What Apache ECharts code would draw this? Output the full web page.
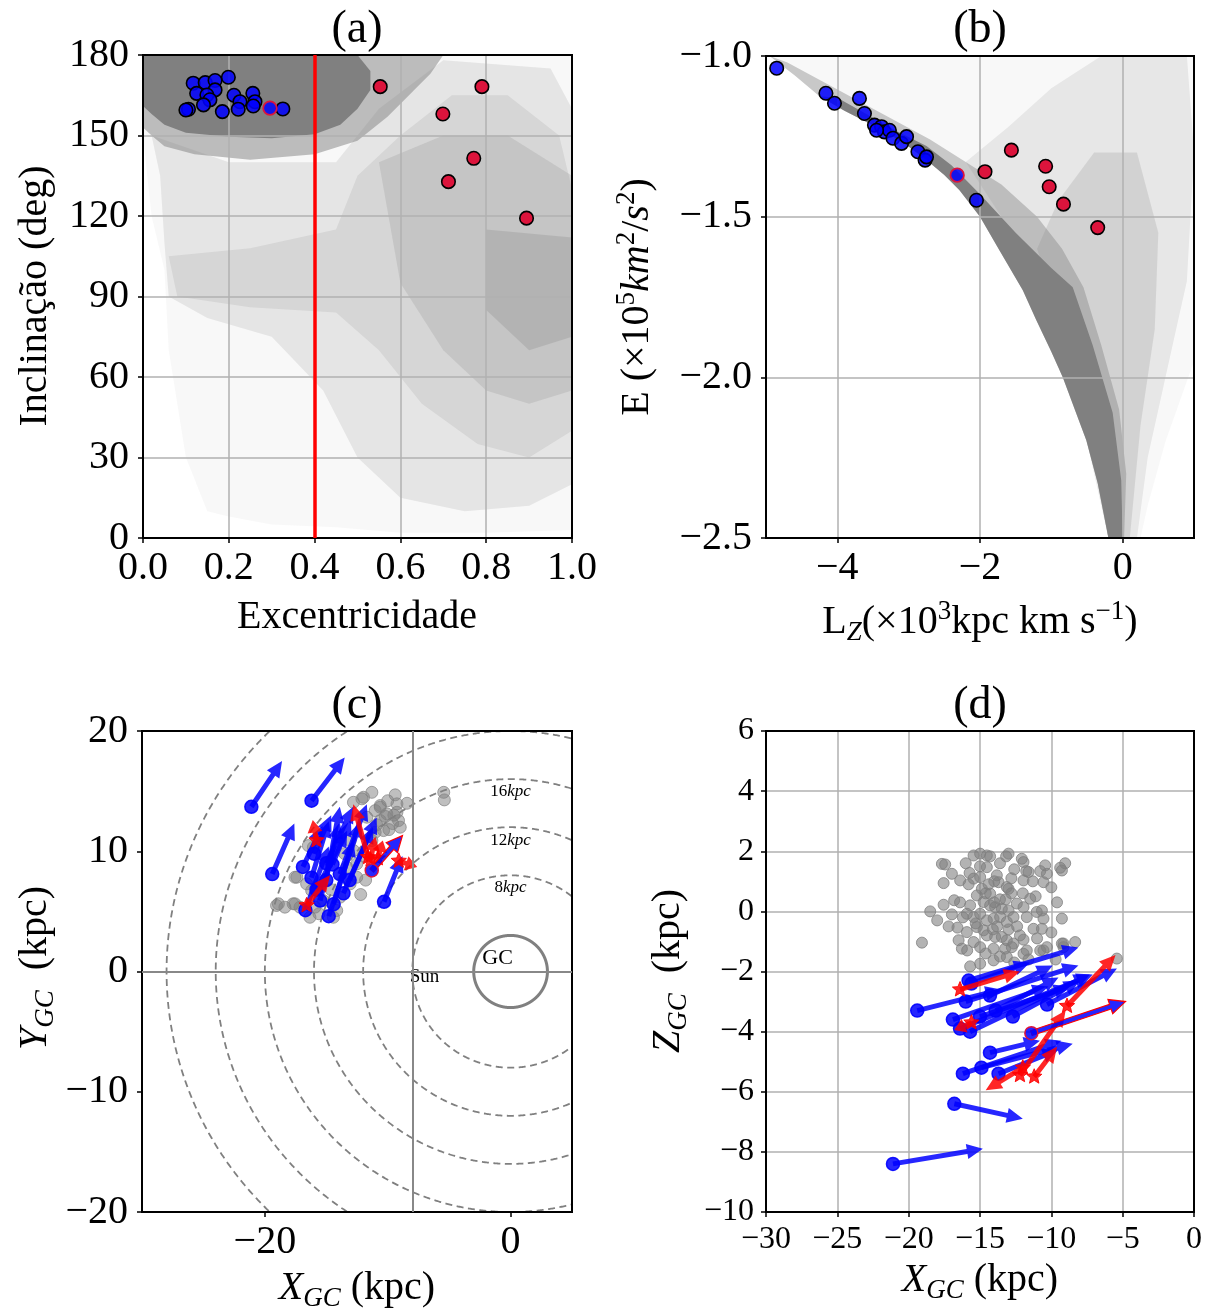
<!DOCTYPE html>
<html><head><meta charset="utf-8">
<script src="https://cdn.jsdelivr.net/npm/echarts@6/dist/echarts.min.js"></script>
<style>html,body{margin:0;padding:0;background:#fff}#c{width:1213px;height:1313px}</style>
</head><body><div id="c"></div>
<script>
// ---------------- DATA ----------------
// (a) eccentricity vs inclination
const aBlue = [[0.117,169.5],[0.145,169.7],[0.168,170.5],[0.168,167.0],[0.199,171.7],[0.125,165.7],[0.149,165.1],[0.156,163.3],[0.141,161.4],[0.106,159.8],[0.100,159.5],[0.185,158.9],[0.212,165.0],[0.226,162.6],[0.222,159.8],[0.256,165.7],[0.261,162.6],[0.257,161.0],[0.326,159.9]];
const aBlueRed = [[0.296,160.2]];
const aRed = [[0.553,168.2],[0.790,168.2],[0.699,158.0],[0.771,141.5],[0.712,132.8],[0.894,119.2]];
const aCut = 0.4;
// background population, read as density outlines (e, i)
const aCloudSparse = [[0,180],[1,180],[1,3],[0.8,2],[0.6,2],[0.45,4],[0.3,5],[0.2,8],[0.15,10],[0.1,30],[0.06,70],[0.05,100],[0.02,120],[0,150]];
const aCloudLight = [[0.02,150],[0.2,140],[0.45,140],[0.55,160],[0.7,178],[0.95,175],[1,160],[1,20],[0.9,12],[0.75,10],[0.6,15],[0.5,30],[0.42,55],[0.3,75],[0.15,82],[0.06,90],[0.05,110],[0.04,135]];
const aCloudBand = [[0.06,105],[0.25,108],[0.45,115],[0.5,135],[0.6,150],[0.72,165],[0.85,165],[0.97,150],[1,130],[1,40],[0.9,30],[0.78,35],[0.65,50],[0.55,70],[0.45,84],[0.25,86],[0.08,90]];
const aCloudRight = [[0.55,140],[0.7,150],[0.85,150],[1,135],[1,55],[0.9,50],[0.8,55],[0.7,70],[0.6,95]];
const aCloudCore = [[0.8,115],[1,112],[1,75],[0.9,70],[0.8,85]];
const aCloudHalo = [[0,180],[0.7,180],[0.67,173],[0.62,165],[0.57,157],[0.5,148],[0.4,143],[0.25,141],[0.12,143],[0.05,146],[0.02,150],[0,153]];
const aCloudDense = [[0,180],[0.5,180],[0.53,174],[0.53,167],[0.5,160],[0.46,154],[0.4,150.5],[0.3,149],[0.2,149.5],[0.1,151],[0.05,154],[0.02,158],[0,161]];

// (b) Lz vs E
const bBlue = [[-4.85,-1.038],[-4.16,-1.116],[-4.04,-1.147],[-3.69,-1.132],[-3.62,-1.179],[-3.48,-1.215],[-3.38,-1.22],[-3.34,-1.236],[-3.27,-1.231],[-3.45,-1.231],[-3.22,-1.256],[-3.10,-1.272],[-3.03,-1.251],[-2.87,-1.298],[-2.77,-1.324],[-2.75,-1.314],[-2.05,-1.449]];
const bBlueRed = [[-2.32,-1.371]];
const bRed = [[-1.56,-1.293],[-1.93,-1.36],[-1.08,-1.343],[-1.03,-1.407],[-0.83,-1.461],[-0.35,-1.534]];
const bEdge = [[-4.95,-1.0],[-4.6,-1.06],[-4.25,-1.125],[-3.9,-1.17],[-3.55,-1.21],[-3.1,-1.265],[-2.75,-1.324],[-2.5,-1.37],[-2.29,-1.417],[-2.0,-1.5],[-1.73,-1.604],[-1.4,-1.729],[-1.21,-1.822],[-1.0,-1.92],[-0.84,-2.0],[-0.51,-2.196],[-0.35,-2.33],[-0.23,-2.466],[-0.2,-2.5]];
const bCloudSparse = bEdge.concat([[0.25,-2.5],[0.35,-2.4],[0.6,-2.2],[1,-1.95],[1,-1.0]]);
const bCloudLight = [[-2.2,-1.33],[-1.6,-1.22],[-1.0,-1.1],[-0.3,-1.0],[0.9,-1.0],[1.0,-1.3],[0.9,-1.7],[0.6,-2.0],[0.35,-2.25],[0.2,-2.5],[-0.2,-2.5],[-0.6,-2.1],[-1.1,-1.8],[-1.7,-1.5]];
const bCloudMid = [[-1.2,-1.6],[-0.9,-1.45],[-0.4,-1.3],[0.2,-1.3],[0.5,-1.55],[0.45,-1.85],[0.25,-2.15],[0.1,-2.5],[-0.2,-2.5],[-0.5,-2.1],[-0.9,-1.8]];
const bCloudHalo = bEdge.concat([[0.02,-2.5],[0.05,-2.3],[-0.05,-2.1],[-0.3,-1.9],[-0.55,-1.72],[-0.85,-1.6],[-1.2,-1.5],[-1.7,-1.4],[-2.2,-1.33],[-2.7,-1.26],[-3.2,-1.2],[-3.7,-1.14],[-4.2,-1.08],[-4.7,-1.02]]);
const bCloudDense = bEdge.slice(2).concat([[0.0,-2.5],[-0.02,-2.32],[-0.14,-2.11],[-0.42,-1.9],[-0.7,-1.72],[-1.0,-1.66],[-1.5,-1.55],[-2.0,-1.43],[-2.4,-1.34],[-2.75,-1.28],[-3.2,-1.23],[-3.6,-1.18],[-4.0,-1.13]]);
const bXTicks = [-4,-2,0];

// (c) X-Y plane
const cGray = [[-11.97,14.49],[-11.29,14.9],[-9.39,14.69],[-8.43,13.99],[-9.25,13.94],[-10.61,13.8],[-11.02,13.38],[-10.07,13.11],[-9.25,13.24],[-9.12,12.55],[-8.98,12.0],[-10.61,12.55],[-10.34,11.72],[-11.02,11.58],[-11.29,10.89],[-11.7,12.83],[-5.44,14.9],[-5.39,14.27],[-17.55,7.84],[-16.6,7.29],[-16.19,6.73],[-19.05,5.49],[-18.37,5.35],[-17.55,5.63],[-17.14,5.35],[-15.92,5.35],[-15.24,5.9],[-14.15,5.07],[-13.88,6.18],[-13.06,7.29],[-12.52,8.95],[-12.79,10.06],[-13.06,10.89],[-13.88,11.16],[-16.05,10.33],[-16.33,4.51],[-14.42,4.51],[-13.33,8.67],[-12.52,7.84],[-12.79,14.07],[-12.1,14.36],[-10.61,13.66],[-18.9,5.63],[-17.7,5.63],[-17.4,7.84],[-16.46,10.47],[-10.2,12.9],[-9.6,12.3],[-10.9,12.2],[-9.9,11.8],[-12.0,9.6],[-13.5,9.8],[-14.6,6.8],[-15.6,4.8],[-12.2,6.4],[-11.8,7.6],[-9.5,13.0],[-10.0,14.2]];
const cBlueArrows = [[-21.1,13.7,-18.6,17.5],[-16.2,14.2,-13.5,17.8],[-19.4,8.1,-17.6,12.3],[-10.3,5.8,-8.8,9.6],[-16.9,8.7,-15.3,12.1],[-16.7,5.1,-14.8,10.4],[-14.8,4.6,-12.2,12.5],[-13.6,6.5,-10.9,12.8],[-16.2,7.8,-14.8,12.5],[-15.5,5.9,-13.9,12.4],[-14.4,5.6,-12.8,10.9],[-15.0,7.6,-13.9,13.7],[-13.9,8.1,-11.7,13.9],[-13.1,7.6,-11.2,12.0],[-15.8,6.8,-13.3,11.7],[-15.0,9.0,-12.8,13.7],[-16.0,9.8,-14.6,13.0],[-14.5,8.9,-13.0,12.6]];
const cRedArrows = [[-15.8,10.9,-16.1,12.6],[-16.6,5.5,-14.7,8.0],[-11.6,9.5,-12.8,13.9],[-9.1,9.2,-7.6,8.7],[-11.4,9.3,-11.0,11.2],[-10.8,9.4,-10.4,10.9]];
const cMixedArrows = [[-11.3,8.4,-8.8,11.3]];
const cRings = [8,12,16,20,24,28];
const cGCRadius = 3;
const cSunX = -8;
const cXTicks = [-20,0];
const cNoteText = ['{n|16}{i|kpc}','{n|12}{i|kpc}','{n|8}{i|kpc}','{g|GC}','{s|Sun}'];
const cNotePos = [[0,15.0],[0,10.9],[0,7.0],[-1.06,1.08],[-7.0,-0.5]];

// (d) X-Z plane
const dGray = [[-17.67,1.58],[-17.44,1.56],[-16.97,1.25],[-16.39,1.03],[-17.55,0.94],[-15.73,1.28],[-15.45,1.86],[-14.99,1.92],[-14.52,1.86],[-14.29,1.83],[-13.0,1.92],[-13.17,1.83],[-12.07,1.75],[-11.95,1.64],[-11.76,1.34],[-11.6,1.31],[-10.78,1.34],[-10.43,1.53],[-10.31,1.25],[-10.55,0.97],[-11.95,1.03],[-13.12,0.81],[-13.0,0.75],[-14.52,1.47],[-13.82,1.2],[-13.7,0.97],[-14.99,1.14],[-15.45,1.09],[-14.87,0.75],[-14.29,0.59],[-15.22,0.53],[-15.69,0.2],[-14.75,0.31],[-14.29,0.2],[-13.94,0.14],[-13.47,0.09],[-13.0,0.03],[-12.42,0.26],[-11.95,0.14],[-11.48,0.42],[-10.66,0.03],[-10.55,-0.24],[-9.26,-0.24],[-9.38,1.45],[-9.03,1.6],[-9.26,1.36],[-16.81,0.37],[-17.55,0.22],[-18.49,0.0],[-16.97,-0.1],[-15.92,-0.08],[-15.45,-0.19],[-14.99,-0.08],[-14.52,-0.3],[-14.05,-0.24],[-13.59,-0.19],[-13.12,-0.35],[-12.65,-0.19],[-11.72,-0.19],[-11.02,-0.02],[-11.25,-0.58],[-10.66,-0.58],[-16.58,-0.54],[-15.92,-0.69],[-15.22,-0.52],[-14.75,-0.63],[-14.52,-0.8],[-13.94,-0.85],[-13.47,-0.85],[-13.12,-0.96],[-12.65,-1.07],[-11.95,-0.94],[-19.07,-1.04],[-16.5,-0.96],[-16.27,-1.24],[-15.45,-1.02],[-14.99,-1.19],[-14.05,-1.24],[-13.24,-1.24],[-12.77,-1.19],[-11.72,-1.3],[-10.78,-1.3],[-10.31,-1.19],[-9.26,-1.07],[-8.33,-1.02],[-9.15,-1.19],[-15.69,-1.83],[-14.99,-1.74],[-14.05,-1.63],[-13.12,-1.52],[-11.95,-1.41],[-10.55,-1.3],[-9.15,-1.07],[-5.41,-1.57],[-14.6,0.6],[-13.6,0.4],[-12.8,0.6],[-14.0,1.0],[-12.4,-0.5],[-13.8,-0.5],
  [-16.0,1.6],[-15.0,1.5],[-13.6,1.6],[-12.6,1.4],[-11.3,1.0],[-10.0,0.8],[-9.6,0.3],[-12.0,0.6],[-13.2,0.4],[-14.4,0.9],[-15.8,0.9],[-16.4,0.3],[-15.3,-0.4],[-14.1,-0.6],[-12.2,-0.8],[-11.0,-0.9],[-10.0,-0.7],[-13.6,-1.5],[-12.6,-1.7],[-14.6,-1.4],[-15.9,-1.3],[-17.2,-0.5],[-18.0,-0.3],[-12.8,1.1],[-11.1,0.5],[-14.0,0.3],[-16.2,-0.2],[-13.0,-0.6],[-11.6,-1.6],[-9.7,-1.6]];
const dBlueArrows = [[-21.1,-8.4,-14.8,-7.9],[-16.8,-6.4,-12.0,-6.9],[-19.4,-3.3,-13.5,-2.6],[-16.2,-5.4,-9.3,-4.3],[-14.9,-5.2,-8.5,-4.4],[-13.7,-5.4,-9.5,-4.6],[-14.3,-4.7,-10.8,-4.3],[-16.9,-3.6,-10.2,-2.5],[-16.4,-3.9,-7.1,-2.1],[-15.7,-4.0,-7.3,-2.1],[-15.0,-3.5,-8.7,-2.5],[-15.8,-2.3,-8.1,-1.2],[-16.0,-3.0,-8.1,-1.8],[-14.3,-2.8,-9.9,-1.8],[-10.3,-3.1,-5.4,-1.9],[-12.7,-3.5,-8.0,-2.3],[-15.6,-2.4,-11.5,-1.7],[-13.9,-3.3,-9.5,-2.2]];
const dRedArrows = [[-16.4,-2.6,-12.2,-2.0],[-15.6,-3.7,-16.8,-3.95],[-8.9,-3.15,-5.5,-1.45],[-12.2,-5.45,-9.0,-3.3],[-11.2,-5.5,-9.6,-4.5],[-12.0,-5.2,-14.6,-5.95]];
const dMixedArrows = [[-11.4,-4.05,-4.8,-3.0]];

// ---------------- STYLE ----------------
const FONT = 'Liberation Serif';
const BLUE = 'rgba(0,0,255,0.85)';
const RED = 'rgba(255,0,0,0.85)';
const CRIMSON = '#dc143c';
const GRAYFILL = 'rgba(128,128,128,';
const ARROW = {headLen: 16, headW: 7.5, shaftW: 2.5, baseR: 6.5, starR: 8};
const aClouds = [[aCloudSparse,0.06],[aCloudLight,0.16],[aCloudBand,0.15],[aCloudRight,0.2],[aCloudCore,0.25],[aCloudHalo,0.5],[aCloudDense,1]];
const bClouds = [[bCloudSparse,0.06],[bCloudLight,0.14],[bCloudMid,0.2],[bCloudHalo,0.4],[bCloudDense,1]];

const minus = s => String(s).replace('-', '\u2212');
const RICH = {
  sup:{fontSize:27,fontFamily:FONT,fill:'#000',verticalAlign:'top',lineHeight:22},
  it:{fontSize:40,fontFamily:FONT,fontStyle:'italic',fill:'#000',lineHeight:48},
  sub:{fontSize:27,fontFamily:FONT,fill:'#000',verticalAlign:'bottom',lineHeight:34},
  subI:{fontSize:27,fontFamily:FONT,fontStyle:'italic',fill:'#000',verticalAlign:'bottom',lineHeight:34}
};

function cloudSeries(xi, clouds) {
  return {type:'custom', xAxisIndex:xi, yAxisIndex:xi, z:1, silent:true,
    data: clouds.map((c,i)=>[c[0][0][0], c[0][0][1], i]),
    renderItem(params, api){
      const c = clouds[api.value(2)];
      return {type:'polygon', shape:{points:c[0].map(q=>api.coord(q))}, style:{fill:GRAYFILL+c[1]+')'}};
    }};
}
function pts(xi, data, fill, stroke, size, bw, z) {
  return {type:'scatter', xAxisIndex:xi, yAxisIndex:xi, data, symbolSize:size, z, silent:true,
    itemStyle:{color:fill, borderColor:stroke, borderWidth:bw, opacity:1}};
}
function starPts(cx, cy, R, r) {
  const out = [];
  for (let k=0;k<10;k++){ const a = -Math.PI/2 + k*Math.PI/5; const rr = k%2?r:R; out.push([cx+rr*Math.cos(a), cy+rr*Math.sin(a)]); }
  return out;
}
function arrowSeries(xi, data, fill, stroke, baseKind, baseFill, baseStroke, z) {
  return {type:'custom', xAxisIndex:xi, yAxisIndex:xi, z, silent:true, data,
    encode:{x:[0,2], y:[1,3]},
    renderItem(params, api){
      const p0 = api.coord([api.value(0), api.value(1)]);
      const p1 = api.coord([api.value(2), api.value(3)]);
      const dx=p1[0]-p0[0], dy=p1[1]-p0[1];
      const L = Math.hypot(dx,dy)||1, ux=dx/L, uy=dy/L, nx=-uy, ny=ux;
      const hl=Math.min(ARROW.headLen, L*0.6), hw=ARROW.headW, sw=ARROW.shaftW;
      const bx=p1[0]-ux*hl, by=p1[1]-uy*hl;
      const poly=[[p0[0]+nx*sw,p0[1]+ny*sw],[bx+nx*sw,by+ny*sw],[bx+nx*hw,by+ny*hw],[p1[0],p1[1]],[bx-nx*hw,by-ny*hw],[bx-nx*sw,by-ny*sw],[p0[0]-nx*sw,p0[1]-ny*sw]];
      const ch=[{type:'polygon', shape:{points:poly}, style:{fill, stroke:stroke||null, lineWidth:stroke?1.2:0}}];
      if (baseKind==='circle') ch.push({type:'circle', shape:{cx:p0[0],cy:p0[1],r:ARROW.baseR}, style:{fill:baseFill, stroke:baseStroke, lineWidth:1.5}});
      else ch.push({type:'polygon', shape:{points:starPts(p0[0],p0[1],ARROW.starR,ARROW.starR*0.45)}, style:{fill:baseFill, stroke:baseStroke, lineWidth:1}});
      return {type:'group', children:ch};
    }};
}
function ringSeries(xi, radii, xr, yr, dashed, width) {
  return {type:'custom', xAxisIndex:xi, yAxisIndex:xi, z:1, silent:true,
    data: radii.map(r=>[0,0,r]),
    renderItem(params, api){
      const r = api.value(2); const segs=[]; let cur=[];
      for (let k=0;k<=1440;k++){
        const a = k/1440*2*Math.PI, x=r*Math.cos(a), y=r*Math.sin(a);
        if (x>=xr[0]&&x<=xr[1]&&y>=yr[0]&&y<=yr[1]) cur.push(api.coord([x,y]));
        else { if (cur.length>1) segs.push(cur); cur=[]; }
      }
      if (cur.length>1) segs.push(cur);
      return {type:'group', children: segs.map(s=>({type:'polyline', shape:{points:s}, style:{stroke:'#808080', lineWidth:width, fill:null, lineDash: dashed?[7,4.5]:null}}))};
    }};
}

function axisBase(fs, grid, split) {
  return {type:'value', gridIndex:grid, z:1.5,
    axisLine:{show:false, onZero:false},
    axisTick:{show:true, inside:false, length:5, lineStyle:{color:'#000', width:1.5}},
    axisLabel:{color:'#000', fontFamily:FONT, fontSize:fs, margin:10},
    splitLine:{show:split, lineStyle:{color:'#b0b0b0', width:1.5}}};
}
const gridBox = {show:true, borderColor:'#000', borderWidth:2, backgroundColor:'transparent', z:5};

const xa = axisBase(40,0,true); Object.assign(xa,{min:0,max:1,interval:0.2}); xa.axisLabel.formatter=v=>v.toFixed(1);
const xb = axisBase(40,1,true); Object.assign(xb,{min:-5,max:1}); xb.axisLabel.customValues=bXTicks; xb.axisTick.customValues=bXTicks; xb.axisLabel.formatter=v=>minus(v);
const xc = axisBase(40,2,false); Object.assign(xc,{min:-30,max:5}); xc.axisLabel.customValues=cXTicks; xc.axisTick.customValues=cXTicks; xc.axisLabel.formatter=v=>minus(v);
const xd = axisBase(32,3,true); Object.assign(xd,{min:-30,max:0,interval:5}); xd.axisLabel.formatter=v=>minus(v); xd.axisLabel.margin=12;
const ya = axisBase(40,0,true); Object.assign(ya,{min:0,max:180,interval:30}); ya.axisLabel.margin=14;
const yb = axisBase(40,1,true); Object.assign(yb,{min:-2.5,max:-1,interval:0.5}); yb.axisLabel.formatter=v=>minus(v.toFixed(1)); yb.axisLabel.margin=14;
const yc = axisBase(40,2,false); Object.assign(yc,{min:-20,max:20,interval:10}); yc.axisLabel.formatter=v=>minus(v); yc.axisLabel.margin=14;
const yd = axisBase(32,3,true); Object.assign(yd,{min:-10,max:6,interval:2}); yd.axisLabel.formatter=v=>minus(v); yd.axisLabel.margin=12;

function label(text, x, y, rot, fs) {
  return {type:'text', x, y, rotation:rot||0, z:20, silent:true,
    style:{text, fontFamily:FONT, fontSize:fs||40, fill:'#000', align:'center', verticalAlign:'middle', lineHeight:48, rich:RICH}};
}

const noteSeries = {type:'custom', xAxisIndex:2, yAxisIndex:2, z:4, silent:true,
  data: cNotePos.map((p,i)=>[p[0],p[1],i]),
  renderItem(params, api){
    const p = api.coord([api.value(0), api.value(1)]);
    return {type:'text', x:p[0], y:p[1], style:{text:cNoteText[api.value(2)], align:'center', verticalAlign:'middle', fill:'#000',
      rich:{n:{fontFamily:FONT,fontSize:17,fill:'#000'}, i:{fontFamily:FONT,fontSize:17,fontStyle:'italic',fill:'#000'},
            g:{fontFamily:FONT,fontSize:22,fill:'#000'}, s:{fontFamily:FONT,fontSize:19,fill:'#000'}}}};
  }};

const sunLines = ringSeries(2, [cGCRadius], [-30,5], [-20,20], false, 3);
sunLines.markLine = {silent:true, symbol:'none', label:{show:false}, animation:false,
  lineStyle:{color:'#888888', type:'solid', width:2}, data:[{xAxis:cSunX},{yAxis:0}]};

const aBlueS = pts(0, aBlue, BLUE, '#000', 13.5, 1.6, 3);
aBlueS.markLine = {silent:true, symbol:'none', label:{show:false}, animation:false, lineStyle:{color:'#ff0000', type:'solid', width:3.5}, data:[{xAxis:aCut}]};

const option = {
  animation:false,
  backgroundColor:'#fff',
  grid:[
    Object.assign({left:143, top:55, width:429, height:483}, gridBox),
    Object.assign({left:766, top:56, width:428, height:482}, gridBox),
    Object.assign({left:142, top:731, width:430, height:481}, gridBox),
    Object.assign({left:766, top:731, width:428, height:481}, gridBox)
  ],
  xAxis:[xa,xb,xc,xd],
  yAxis:[ya,yb,yc,yd],
  series:[
    cloudSeries(0, aClouds),
    aBlueS,
    pts(0, aRed, CRIMSON, '#000', 13.5, 1.6, 3),
    pts(0, aBlueRed, BLUE, CRIMSON, 13.5, 1.8, 3),
    cloudSeries(1, bClouds),
    pts(1, bBlue, BLUE, '#000', 13.5, 1.6, 3),
    pts(1, bRed, CRIMSON, '#000', 13.5, 1.6, 3),
    pts(1, bBlueRed, BLUE, CRIMSON, 13.5, 1.8, 3),
    ringSeries(2, cRings, [-30,5], [-20,20], true, 1.8),
    sunLines,
    noteSeries,
    pts(2, cGray, 'rgba(128,128,128,0.5)', 'rgba(128,128,128,0.7)', 12, 1, 2),
    arrowSeries(2, cBlueArrows, BLUE, null, 'circle', BLUE, 'rgba(0,0,255,0.9)', 3),
    arrowSeries(2, cRedArrows, RED, null, 'star', RED, 'rgba(255,0,0,0.9)', 3.2),
    arrowSeries(2, cMixedArrows, BLUE, '#ff0000', 'circle', BLUE, CRIMSON, 3.3),
    pts(3, dGray, 'rgba(128,128,128,0.6)', 'rgba(128,128,128,0.8)', 11, 1, 2),
    arrowSeries(3, dBlueArrows, BLUE, null, 'circle', BLUE, 'rgba(0,0,255,0.9)', 3),
    arrowSeries(3, dRedArrows, RED, null, 'star', RED, 'rgba(255,0,0,0.9)', 3.2),
    arrowSeries(3, dMixedArrows, BLUE, '#ff0000', 'circle', BLUE, CRIMSON, 3.3)
  ],
  graphic:[
    label('(a)', 357, 30, 0, 46), label('(b)', 980, 30, 0, 46),
    label('(c)', 357, 706, 0, 46), label('(d)', 980, 706, 0, 46),
    label('Excentricidade', 357, 617),
    label('Inclinação (deg)', 35, 296, Math.PI/2),
    label('L{subI|Z}(×10{sup|3}kpc km s{sup|−1})', 980, 622),
    label('E (×10{sup|5}{it|km}{sup|2}/{it|s}{sup|2})', 637, 297, Math.PI/2),
    label('{it|X}{subI|GC} (kpc)', 357, 1288),
    label('{it|Y}{subI|GC}  (kpc)', 35, 968, Math.PI/2),
    label('{it|X}{subI|GC} (kpc)', 980, 1280),
    label('{it|Z}{subI|GC}  (kpc)', 668, 971, Math.PI/2)
  ]
};
const chart = echarts.init(document.getElementById('c'), null, {renderer:'canvas', width:1213, height:1313});
chart.setOption(option);
</script></body></html>
